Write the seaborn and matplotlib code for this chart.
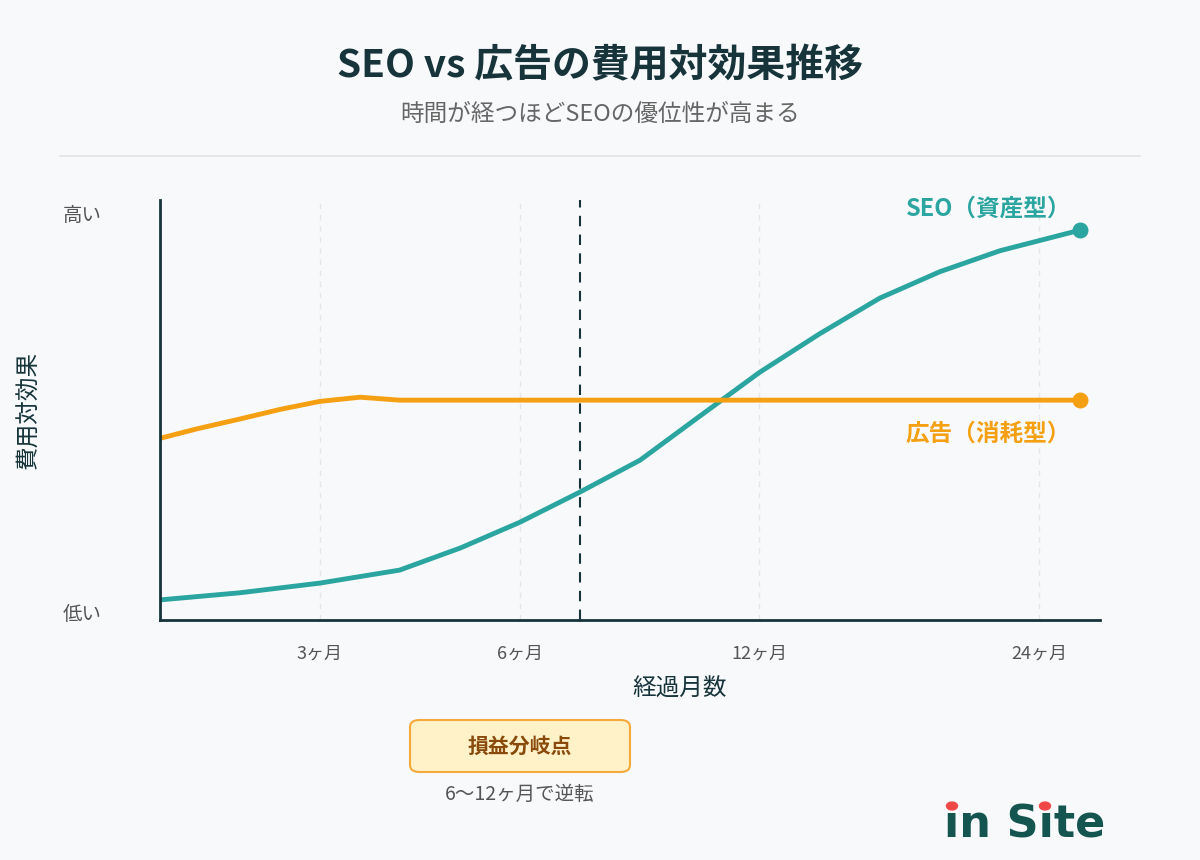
import numpy as np
import matplotlib.pyplot as plt
import seaborn as sns
from matplotlib.patches import FancyBboxPatch, Circle

sns.set_theme(style="white")
plt.rcParams['font.family'] = ['Noto Sans CJK JP', 'DejaVu Sans']

# data (x: chart position 0-100, y: cost-effectiveness 0-100)
seo_x = [0, 8.5, 17, 25.5, 32, 38.3, 44.7, 51.1, 57.4, 63.8, 70.2, 76.6, 83, 89.4, 97.9]
seo_y = [4.8, 6.5, 8.8, 11.9, 17.2, 23.3, 30.5, 38.1, 48.5, 59.0, 68.2, 76.7, 83.0, 88.0, 92.9]
ad_x = [0, 4, 8.5, 12.8, 17, 21.3, 25.5, 60, 97.9]
ad_y = [43.3, 45.6, 47.9, 50.2, 52.1, 53.1, 52.4, 52.4, 52.4]
tick_pos = [17, 38.3, 63.8, 93.6]
tick_labels = ['3ヶ月', '6ヶ月', '12ヶ月', '24ヶ月']
breakeven_x = 44.7

bg = '#f8f9fb'
teal = '#2aa5a0'
orange = '#f4a012'
dark = '#16343a'

fig = plt.figure(figsize=(12, 8.6), dpi=100, facecolor=bg)
ax = fig.add_axes([0.1333, 0.279, 0.783, 0.488], facecolor=bg)

for t in tick_pos:
    ax.axvline(t, color='#e4e6ea', lw=1, ls=(0, (4, 4)), zorder=0)
ax.axvline(breakeven_x, color=dark, lw=1.5, ls=(0, (5, 4)), zorder=1)

sns.lineplot(x=seo_x, y=seo_y, ax=ax, color=teal, lw=3.5)
sns.lineplot(x=ad_x, y=ad_y, ax=ax, color=orange, lw=3.5)
ax.scatter([seo_x[-1]], [seo_y[-1]], color=teal, s=110, zorder=5)
ax.scatter([ad_x[-1]], [ad_y[-1]], color=orange, s=110, zorder=5)

ax.text(97, 98, 'SEO（資産型）', color=teal, fontsize=17, fontweight='bold', ha='right', va='center')
ax.text(97, 44.5, '広告（消耗型）', color=orange, fontsize=17, fontweight='bold', ha='right', va='center')

ax.set_xlim(0, 100)
ax.set_ylim(0, 100)
ax.set_xticks(tick_pos)
ax.set_xticklabels(tick_labels, fontsize=13, color='#555')
ax.set_yticks([2, 97])
ax.set_yticklabels(['低い', '高い'], fontsize=14, color='#555')
ax.tick_params(length=0, pad=18)
ax.tick_params(axis='y', pad=42)
for s in ['top', 'right']:
    ax.spines[s].set_visible(False)
for s in ['left', 'bottom']:
    ax.spines[s].set_color(dark)
    ax.spines[s].set_linewidth(2)
ax.set_xlabel('経過月数', fontsize=17, color=dark)
ax.xaxis.set_label_coords(520 / 940, -58 / 420)
ax.set_ylabel('費用対効果', fontsize=17, color=dark)
ax.yaxis.set_label_coords(-120 / 940, 0.5)

fig.text(0.5, 1 - 66 / 860, 'SEO vs 広告の費用対効果推移', ha='center', va='center',
         fontsize=28, fontweight='bold', color=dark)
fig.text(0.5, 1 - 114 / 860, '時間が経つほどSEOの優位性が高まる', ha='center', va='center',
         fontsize=17, color='#666')
fig.add_artist(plt.Line2D([60 / 1200, 1140 / 1200], [1 - 156 / 860] * 2, color='#e2e4e8', lw=1.2))

box = FancyBboxPatch((410 / 1200, 1 - 772 / 860), 220 / 1200, 52 / 860,
                     boxstyle='round,pad=0,rounding_size=0.008', transform=fig.transFigure,
                     facecolor='#fff1c8', edgecolor='#f4a93a', lw=1.5)
fig.add_artist(box)
fig.text(520 / 1200, 1 - 746 / 860, '損益分岐点', ha='center', va='center', fontsize=15,
         fontweight='bold', color='#8a4a0c')
fig.text(520 / 1200, 1 - 794 / 860, '6〜12ヶ月で逆転', ha='center', va='center', fontsize=14, color='#555')

fig.text(944 / 1200, 1 - 837 / 860, 'ın Sıte', ha='left', va='baseline', fontsize=32,
         fontweight='bold', color='#14554f', family=['DejaVu Sans'])
for px in [952, 1045]:
    fig.add_artist(Circle((px / 1200, 1 - 806 / 860), 5.5 / 1200, transform=fig.transFigure,
                          color='#f04848'))

fig.savefig('out.png', dpi=100, facecolor=bg)
